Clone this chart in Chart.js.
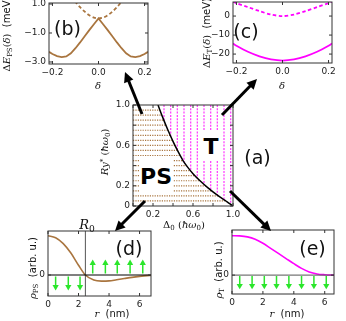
<!DOCTYPE html>
<html><head><meta charset="utf-8">
<script src="https://cdn.jsdelivr.net/npm/chart.js@4.4.1/dist/chart.umd.min.js"></script>
<style>
html,body{margin:0;padding:0;background:#fff;}
#wrap{position:relative;width:346px;height:321px;overflow:hidden;font-family:'DejaVu Sans',sans-serif;color:#111;}
#wrap canvas{position:absolute;}
.t{position:absolute;white-space:nowrap;line-height:1;transform:translate(-50%,-50%);}
.rot{transform:translate(-50%,-50%) rotate(-90deg);}
.m{font-family:'DejaVu Serif',serif;font-style:italic;}
.u{font-style:normal;}
sub,sup{font-size:70%;line-height:0;position:relative;vertical-align:baseline;}
sub{top:0.3em;} sup{top:-0.45em;}
.pl{font-size:19px;}
.ax{font-size:10px;}
.box{position:absolute;background:#fff;font-weight:bold;font-size:22px;text-align:center;font-family:'DejaVu Sans',sans-serif;color:#000;}
#arrows{position:absolute;left:0;top:0;}
</style></head>
<body><div id="wrap">
<canvas id="cb" width="154" height="78" style="left:0;top:0"></canvas>
<canvas id="cc" width="142" height="77" style="left:196px;top:0"></canvas>
<canvas id="ca" width="150" height="124" style="left:96px;top:96px"></canvas>
<canvas id="cd" width="157" height="88" style="left:0;top:222px"></canvas>
<canvas id="ce" width="144" height="86" style="left:196px;top:222px"></canvas>

<div class="t pl" style="left:67.5px;top:28px">(b)</div>
<div class="t pl" style="left:246px;top:31px">(c)</div>
<div class="t pl" style="left:257.5px;top:157px">(a)</div>
<div class="t pl" style="left:129px;top:248px">(d)</div>
<div class="t pl" style="left:312.5px;top:248px">(e)</div>

<div class="box" style="left:139px;top:158px;width:34px;height:35px;line-height:38px">PS</div>
<div class="box" style="left:201px;top:131px;width:20px;height:29px;line-height:31px">T</div>

<div class="t ax rot" style="left:7px;top:34px"><span class="m"><span class="u">Δ</span>E<sub class="u">PS</sub><span class="u">(</span>δ<span class="u">)</span></span>&nbsp; (meV)</div>
<div class="t ax rot" style="left:207px;top:33px"><span class="m"><span class="u">Δ</span>E<sub class="u">T</sub><span class="u">(</span>δ<span class="u">)</span></span>&nbsp; (meV)</div>
<div class="t ax m" style="left:98px;top:86px">δ</div>
<div class="t ax m" style="left:282px;top:86px">δ</div>
<div class="t ax rot" style="left:105px;top:152px"><span class="m">Ry<sup class="u">*</sup> <span class="u">(</span>ħω<sub class="u">0</sub><span class="u">)</span></span></div>
<div class="t ax" style="left:184px;top:225px"><span class="m"><span class="u">Δ</span><sub class="u">0</sub></span>&nbsp;<span class="m"><span class="u">(</span>ħω<sub class="u">0</sub><span class="u">)</span></span></div>
<div class="t ax rot" style="left:33px;top:268px"><span class="m">ρ<sub class="u">PS</sub></span>&nbsp; (arb. u.)</div>
<div class="t ax rot" style="left:219px;top:270px"><span class="m">ρ<sub class="u">T</sub></span>&nbsp; (arb. u.)</div>
<div class="t ax" style="left:112px;top:314px"><span class="m">r</span>&nbsp; (nm)</div>
<div class="t ax" style="left:287px;top:314px"><span class="m">r</span>&nbsp; (nm)</div>
<div class="t m" style="left:87px;top:224px;font-size:13px">R<sub class="u">0</sub></div>

<svg id="arrows" width="346" height="321"></svg>
</div>
<script>
// ---------- DATA ----------
// panel (b): PS energy vs delta
const deltaB = [-0.215,-0.2,-0.18,-0.16,-0.14,-0.12,-0.1,-0.08,-0.06,-0.04,-0.02,0,0.02,0.04,0.06,0.08,0.1,0.12,0.14,0.16,0.18,0.2,0.215];
const ePSsolid = [-2.30,-2.45,-2.60,-2.67,-2.62,-2.40,-2.05,-1.65,-1.22,-0.80,-0.40,0.0,-0.40,-0.80,-1.22,-1.65,-2.05,-2.40,-2.62,-2.67,-2.60,-2.45,-2.30];
const deltaBdash = [-0.13,-0.12,-0.1,-0.08,-0.06,-0.04,-0.02,0,0.02,0.04,0.06,0.08,0.1,0.12,0.13];
const ePSdashed = [1.9,1.6,1.15,0.78,0.47,0.22,0.06,0,0.06,0.22,0.47,0.78,1.15,1.6,1.9];
const bXTicks = [-0.2,0,0.2], bXLabels = ['\u22120.2','0.0','0.2'];
const bYTicks = [-3,-1,1], bYLabels = ['\u22123.0','\u22121.0','1.0'];

// panel (c): T energy vs delta
const deltaC = [-0.215,-0.2,-0.15,-0.1,-0.05,0,0.05,0.1,0.15,0.2,0.215];
const eTsolid = [-14.4,-15.6,-18.8,-21.2,-22.8,-23.4,-22.8,-21.2,-18.8,-15.6,-14.4];
const eTdashed = [7.6,6.8,4.7,2.6,0.8,0,0.8,2.6,4.7,6.8,7.6];
const cXTicks = [-0.2,0,0.2], cXLabels = ['\u22120.2','0.0','0.2'];
const cYTicks = [-20,-10,0], cYLabels = ['\u221220','\u221210','0'];

// panel (a): phase diagram
const boundDelta = [0.25,0.30,0.35,0.40,0.45,0.50,0.55,0.60,0.67,0.75,0.84,0.92,0.97,1.0];
const boundRy    = [1.00,0.87,0.75,0.64,0.54,0.45,0.38,0.32,0.25,0.18,0.11,0.055,0.02,0.0];
const hatchRy = [0.05,0.10,0.15,0.20,0.25,0.30,0.35,0.40,0.45,0.50,0.55,0.60,0.65,0.70,0.75,0.80,0.85,0.90,0.95];
const hatchDelta = [0.31,0.377,0.443,0.51,0.577,0.643,0.71,0.777,0.843,0.91,0.977];
const aXTicks = [0,0.2,0.4,0.6,0.8,1.0], aXLabels = ['','0.2','','0.6','','1.0'];
const aYTicks = [0,0.2,0.4,0.6,0.8,1.0], aYLabels = ['0','0.2','','0.6','','1.0'];

// panel (d): PS density
const rD = [0,0.5,1.0,1.5,2.0,2.45,3.0,3.5,4.0,4.5,5.0,5.5,6.0,6.5,6.75];
const rhoPS = [1.0,0.95,0.80,0.56,0.25,0.0,-0.13,-0.155,-0.15,-0.12,-0.09,-0.06,-0.035,-0.015,-0.01];
const R0 = 2.45;
const dDownR = [0.5,1.33,2.1];
const dUpR = [2.93,3.76,4.54,5.38,6.21];
const dArrowBase = 0.04, dArrowHead = 0.30;
const dXTicks = [0,2,4,6], dXLabels = ['0','2','4','6'];

// panel (e): T density
const rE = [0,0.5,1.0,1.5,2.0,2.5,3.0,3.5,4.0,4.5,5.0,5.5,6.0,6.6];
const rhoT = [1.0,0.995,0.97,0.91,0.81,0.68,0.55,0.42,0.29,0.17,0.08,0.03,0.01,0.0];
const eDownR = [0.5,1.3,2.09,2.88,3.68,4.5,5.3,6.1];
const eArrowBase = 0.025, eArrowHead = 0.27;
const eXTicks = [0,2,4,6], eXLabels = ['0','2','4','6'];

// ---------- STYLE ----------
const BROWN = '#a9753f', MAG = '#ff00ff', GREEN = '#2be62b', FRAME = '#333';
const TICKFONT = {family:'DejaVu Sans', size:9};

const framePlugin = {
  id:'frame',
  afterDatasetsDraw(chart){
    const {ctx, chartArea:a, scales:{x,y}} = chart;
    ctx.save(); ctx.setLineDash([]); ctx.strokeStyle = FRAME; ctx.lineWidth = 1;
    ctx.strokeRect(a.left, a.top, a.right-a.left, a.bottom-a.top);
    ctx.beginPath();
    x.ticks.forEach(t=>{const p=x.getPixelForValue(t.value); ctx.moveTo(p,a.bottom); ctx.lineTo(p,a.bottom-3); ctx.moveTo(p,a.top); ctx.lineTo(p,a.top+3);});
    y.ticks.forEach(t=>{const p=y.getPixelForValue(t.value); ctx.moveTo(a.left,p); ctx.lineTo(a.left+3,p); ctx.moveTo(a.right,p); ctx.lineTo(a.right-3,p);});
    ctx.stroke(); ctx.restore();
  }
};

function scale(min, max, ticks, labels, size, isX){
  return {
    type:'linear', min, max,
    afterBuildTicks: s => { s.ticks = ticks.map(v=>({value:v})); },
    afterFit: s => { if(isX) s.height = size; else s.width = size; s.paddingTop=0; s.paddingBottom=0; s.paddingLeft=0; s.paddingRight=0; },
    ticks:{ callback:(v,i)=>labels[i], font:TICKFONT, color:'#222', padding:3, autoSkip:false, maxRotation:0, minRotation:0 },
    grid:{ display:false, drawTicks:false, drawOnChartArea:false },
    border:{ display:false }
  };
}
const pts = (xs, ys) => xs.map((v,i)=>({x:v, y:ys[i]}));
const lineDs = (data, color, width, dash, extra) => Object.assign({data, borderColor:color, backgroundColor:color, borderWidth:width, borderDash:dash||[], showLine:true, pointRadius:0, tension:0, fill:false}, extra||{});

function make(id, datasets, xs, ys, pad, plugins){
  return new Chart(document.getElementById(id), {
    type:'scatter',
    data:{datasets},
    options:{
      responsive:false, animation:false, devicePixelRatio:1,
      layout:{padding:pad},
      plugins:{legend:{display:false}, tooltip:{enabled:false}},
      scales:{x:xs, y:ys},
      events:[]
    },
    plugins:[...(plugins||[]), framePlugin]
  });
}

// (b)
make('cb', [
  lineDs(pts(deltaB, ePSsolid), BROWN, 1.8),
  lineDs(pts(deltaBdash, ePSdashed), BROWN, 1.8, [3.5,2.5], {tension:0.3})
], scale(-0.215,0.215,bXTicks,bXLabels,14,true), scale(-3.14,1.07,bYTicks,bYLabels,49,false), {top:3,right:6,left:0,bottom:0});

// (c)
make('cc', [
  lineDs(pts(deltaC, eTsolid), MAG, 1.8, [], {tension:0.3}),
  lineDs(pts(deltaC, eTdashed), MAG, 1.8, [3.5,2.5], {tension:0.3})
], scale(-0.215,0.215,cXTicks,cXLabels,14,true), scale(-24.7,7.4,cYTicks,cYLabels,37,false), {top:2,right:6,left:0,bottom:0});

// (a) hatching plugin
const hatchPlugin = {
  id:'hatch',
  beforeDatasetsDraw(chart){
    const {ctx, scales:{x,y}} = chart;
    const bx = boundDelta.map(v=>x.getPixelForValue(v)), by = boundRy.map(v=>y.getPixelForValue(v));
    const x0=x.getPixelForValue(0), x1=x.getPixelForValue(1), y0=y.getPixelForValue(0), y1=y.getPixelForValue(1);
    ctx.save(); ctx.beginPath(); ctx.moveTo(x0,y0); ctx.lineTo(x0,y1);
    bx.forEach((v,i)=>ctx.lineTo(v,by[i])); ctx.closePath(); ctx.clip();
    ctx.strokeStyle = BROWN; ctx.lineWidth = 1.2; ctx.setLineDash([1.2,1.2]);
    hatchRy.forEach(r=>{const p=y.getPixelForValue(r); ctx.beginPath(); ctx.moveTo(x0,p); ctx.lineTo(x1,p); ctx.stroke();});
    ctx.restore();
    ctx.save(); ctx.beginPath();
    bx.forEach((v,i)=> i? ctx.lineTo(v,by[i]) : ctx.moveTo(v,by[i]));
    ctx.lineTo(x1,y1); ctx.closePath(); ctx.clip();
    ctx.strokeStyle = '#ff33ff'; ctx.lineWidth = 1.2; ctx.setLineDash([2,1.3]);
    hatchDelta.forEach(d=>{const p=x.getPixelForValue(d); ctx.beginPath(); ctx.moveTo(p,y0); ctx.lineTo(p,y1); ctx.stroke();});
    ctx.restore();
  }
};
make('ca', [
  lineDs(pts(boundDelta, boundRy), '#000', 1.5, [], {cubicInterpolationMode:'monotone'})
], scale(0,1,aXTicks,aXLabels,14,true), scale(0,1,aYTicks,aYLabels,37,false), {top:9,right:13,left:0,bottom:0}, [hatchPlugin]);

// green spin arrows
function shafts(rs, base, head){ const out=[]; rs.forEach(r=>{ out.push({x:r,y:base},{x:r,y:head},{x:r,y:null}); }); return out; }
function heads(rs, head){ return rs.map(r=>({x:r,y:head})); }
const headDs = (data, rot) => ({data, showLine:false, pointStyle:'triangle', pointRadius:3.6, pointRotation:rot, backgroundColor:GREEN, borderColor:GREEN, borderWidth:0});

// (d)
const dMin=-0.534, dMax=1.12, dXmax=6.75;
make('cd', [
  lineDs([{x:0,y:0},{x:dXmax,y:0}], '#000', 1),
  lineDs([{x:R0,y:dMin},{x:R0,y:dMax}], '#555', 1),
  lineDs(pts(rD, rhoPS), BROWN, 1.6, [], {cubicInterpolationMode:'monotone'}),
  lineDs(shafts(dDownR, -dArrowBase, -dArrowHead), GREEN, 1.5, [], {spanGaps:false}),
  lineDs(shafts(dUpR, dArrowBase, dArrowHead), GREEN, 1.5, [], {spanGaps:false}),
  headDs(heads(dDownR, -dArrowHead), 180),
  headDs(heads(dUpR, dArrowHead), 0)
], scale(0,dXmax,dXTicks,dXLabels,14,true), scale(dMin,dMax,[0],['0'],48,false), {top:9,right:6,left:0,bottom:0});

// (e)
const eMin=-0.48, eMax=1.145, eXmax=6.6;
make('ce', [
  lineDs([{x:0,y:0},{x:eXmax,y:0}], '#555', 1),
  lineDs(pts(rE, rhoT), MAG, 1.6, [], {cubicInterpolationMode:'monotone'}),
  lineDs(shafts(eDownR, -eArrowBase, -eArrowHead), GREEN, 1.5, [], {spanGaps:false}),
  headDs(heads(eDownR, -eArrowHead), 180)
], scale(0,eXmax,eXTicks,eXLabels,14,true), scale(eMin,eMax,[0],['0'],36,false), {top:8,right:6,left:0,bottom:0});

// black connector arrows (annotation)
const connectors = [[142,114,125,72],[222,115,257,79],[145,201,115,231],[230,191,271,231]];
const svg = document.getElementById('arrows'); let s='';
connectors.forEach(([x1,y1,x2,y2])=>{
  const dx=x2-x1, dy=y2-y1, L=Math.hypot(dx,dy), ux=dx/L, uy=dy/L, hl=10, hw=5;
  const bx=x2-ux*hl, by=y2-uy*hl;
  s += `<line x1="${x1}" y1="${y1}" x2="${x2-ux*hl*0.6}" y2="${y2-uy*hl*0.6}" stroke="#000" stroke-width="3"/>`;
  s += `<polygon points="${x2},${y2} ${bx-uy*hw},${by+ux*hw} ${bx+uy*hw},${by-ux*hw}" fill="#000"/>`;
});
svg.innerHTML = s;
</script>
</body></html>
